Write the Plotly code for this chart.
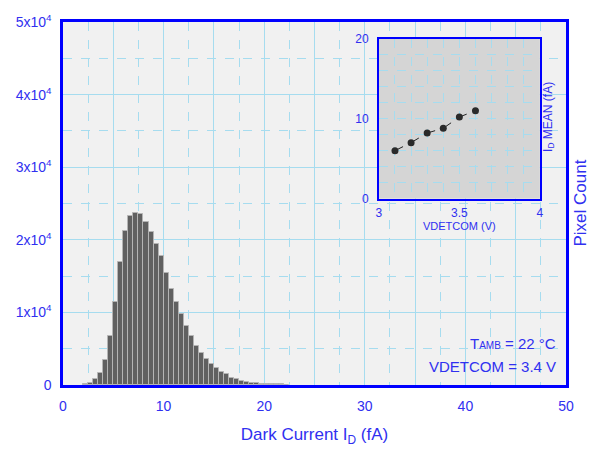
import plotly.graph_objects as go

# ---- data ----
bin_centers = [2.25, 2.75, 3.25, 3.75, 4.25, 4.75, 5.25, 5.75, 6.25, 6.75,
               7.25, 7.75, 8.25, 8.75, 9.25, 9.75, 10.25, 10.75, 11.25, 11.75,
               12.25, 12.75, 13.25, 13.75, 14.25, 14.75, 15.25, 15.75, 16.25, 16.75,
               17.25, 17.75, 18.25, 18.75, 19.25, 19.75, 20.25, 20.75, 21.25, 21.75,
               22.25]
pixel_counts = [135, 315, 766, 1667, 3379, 6757, 11400, 16900, 21170, 23290,
                23740, 23560, 22390, 21040, 19370, 17790, 15450, 13200, 11490, 9776,
                8110, 6757, 5406, 4415, 3604, 2928, 2343, 1802, 1487, 991,
                766, 586, 450, 315, 225, 180, 150, 120, 90, 70,
                50]
y_tick_vals = [0, 10000, 20000, 30000, 40000, 50000]
y_tick_text = ["0", "1x10<sup>4</sup>", "2x10<sup>4</sup>", "3x10<sup>4</sup>",
               "4x10<sup>4</sup>", "5x10<sup>4</sup>"]
x_tick_vals = [0, 5, 10, 15, 20, 25, 30, 35, 40, 45, 50]
x_tick_text = ["0", "", "10", "", "20", "", "30", "", "40", "", "50"]

vdetcom = [3.1, 3.2, 3.3, 3.4, 3.5, 3.6]
id_mean = [6.0, 7.0, 8.2, 8.8, 10.2, 11.0]

BLUE_TXT = "#3030f0"
BLUE_LINE = "#0000ff"
GRID = "#a6dcef"
FONT = "Liberation Sans, Arial, sans-serif"

fig = go.Figure()
fig.add_trace(go.Bar(x=bin_centers, y=pixel_counts, width=0.5,
                     marker=dict(color="#606060", line=dict(color="#b4b4b4", width=1)),
                     xaxis="x", yaxis="y", showlegend=False))
fig.add_trace(go.Scatter(x=vdetcom, y=id_mean, mode="lines+markers",
                         line=dict(color="#222222", width=1, dash="dash"),
                         marker=dict(color="#2a2a2a", size=7),
                         xaxis="x2", yaxis="y2", showlegend=False))

fig.update_layout(
    width=591, height=455,
    margin=dict(l=63, r=25, t=15, b=70),
    paper_bgcolor="white", plot_bgcolor="#d5d5d5",
    font=dict(family=FONT, color=BLUE_TXT, size=14),
    bargap=0,
    xaxis=dict(domain=[0, 1], range=[0, 50], tickvals=x_tick_vals, ticktext=x_tick_text,
               showline=True, linecolor=BLUE_LINE, linewidth=2.5, mirror=True,
               showgrid=True, gridcolor=GRID, gridwidth=1, zeroline=False,
               ticks="", ticklabelstandoff=6,
               minor=dict(dtick=2.5, showgrid=True, gridcolor=GRID, griddash="dash", gridwidth=1),
               title=dict(text="Dark Current I<sub>D</sub> (fA)", font=dict(size=17, color=BLUE_TXT), standoff=16)),
    yaxis=dict(domain=[0, 1], range=[0, 50000], tickvals=y_tick_vals, ticktext=y_tick_text,
               showline=True, linecolor=BLUE_LINE, linewidth=2.5, mirror=True,
               showgrid=True, gridcolor=GRID, gridwidth=1, zeroline=False,
               ticks="", ticklabelstandoff=6,
               minor=dict(dtick=5000, showgrid=True, gridcolor=GRID, griddash="dash", gridwidth=1)),
    xaxis2=dict(domain=[0.628, 0.948], anchor="y2", range=[3, 4], tickvals=[3, 3.5, 4],
                showline=True, linecolor=BLUE_LINE, linewidth=1.5, mirror=True,
                showgrid=True, gridcolor=GRID, griddash="dash", zeroline=False, ticks="",
                tickfont=dict(size=12), ticklabelstandoff=2,
                minor=dict(dtick=0.1, showgrid=True, gridcolor=GRID, griddash="dash"),
                title=dict(text="VDETCOM (V)", font=dict(size=11, color=BLUE_TXT), standoff=2)),
    yaxis2=dict(domain=[0.5135, 0.954], anchor="x2", range=[0, 20], tickvals=[0, 10, 20],
                showline=True, linecolor=BLUE_LINE, linewidth=1.5, mirror=True,
                showgrid=True, gridcolor=GRID, griddash="dash", zeroline=False, ticks="",
                tickfont=dict(size=12), ticklabelstandoff=6,
                minor=dict(dtick=2, showgrid=True, gridcolor=GRID, griddash="dash")),
    shapes=[dict(type="rect", xref="x domain", yref="y domain", x0=0, x1=1, y0=0, y1=1,
                 fillcolor="#f1f1f1", line=dict(width=0), layer="below")],
    annotations=[
        dict(text="Pixel Count", xref="paper", yref="paper", x=1.0, y=0.5, xshift=14,
             textangle=-90, showarrow=False, font=dict(size=17, color=BLUE_TXT),
             xanchor="center", yanchor="middle"),
        dict(text="I<sub>D</sub> MEAN (fA)", xref="x2 domain", yref="y2 domain", x=1.0, y=0.51,
             xshift=9, textangle=-90, showarrow=False, font=dict(size=12, color=BLUE_TXT),
             xanchor="center", yanchor="middle"),
        dict(text="T<span style='font-size:10px'>AMB</span> = 22 °C", xref="paper", yref="paper",
             x=0.985, y=0.115, xanchor="right", yanchor="middle", showarrow=False,
             font=dict(size=15, color=BLUE_TXT)),
        dict(text="VDETCOM = 3.4 V", xref="paper", yref="paper",
             x=0.985, y=0.052, xanchor="right", yanchor="middle", showarrow=False,
             font=dict(size=15, color=BLUE_TXT)),
    ],
)

fig.write_html("out.html")
